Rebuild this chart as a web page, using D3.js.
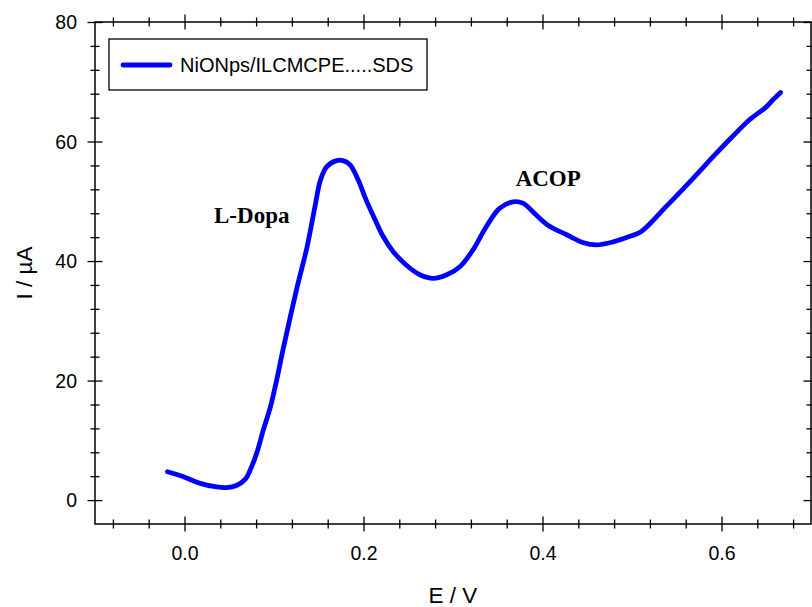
<!DOCTYPE html>
<html>
<head>
<meta charset="utf-8">
<script src="https://cdn.jsdelivr.net/npm/d3@7"></script>
<style>
  html, body { margin: 0; padding: 0; background: #fff; }
  svg { display: block; }
</style>
</head>
<body>
<div id="chart"></div>
<script>
// Data (E in V, I in µA)
const potential = [-0.019, -0.001, 0.0175, 0.036, 0.047, 0.058, 0.068, 0.075, 0.081, 0.088,
  0.096, 0.103, 0.110, 0.125, 0.137, 0.146, 0.152, 0.159, 0.170, 0.177,
  0.185, 0.194, 0.203, 0.213, 0.222, 0.233, 0.248, 0.263, 0.278, 0.293,
  0.308, 0.322, 0.337, 0.352, 0.367, 0.378, 0.393, 0.406, 0.427, 0.445,
  0.460, 0.479, 0.497, 0.510, 0.538, 0.568, 0.594, 0.612, 0.631, 0.650,
  0.657, 0.666];
const current = [4.74, 3.9, 2.8, 2.2, 2.1, 2.45, 3.5, 5.6, 8.0, 11.7,
  15.6, 20.1, 25.1, 35.1, 42.4, 49.3, 53.6, 55.8, 56.8, 56.8,
  56.1, 53.6, 50.2, 46.9, 44.1, 41.6, 39.3, 37.7, 37.1, 37.7,
  39.1, 41.8, 45.7, 48.8, 49.9, 49.7, 47.7, 46.0, 44.4, 43.1,
  42.7, 43.2, 44.1, 44.9, 49.1, 53.8, 58.0, 60.8, 63.6, 65.8,
  66.9, 68.2];

const xMajor = [0.0, 0.2, 0.4, 0.6];
const xMinor = [-0.08, -0.04, 0.04, 0.08, 0.12, 0.16, 0.24, 0.28, 0.32, 0.36,
  0.44, 0.48, 0.52, 0.56, 0.64, 0.68];
const yMajor = [0, 20, 40, 60, 80];
const yMinor = [4, 8, 12, 16, 24, 28, 32, 36, 44, 48, 52, 56, 64, 68, 72, 76];

const seriesName = 'NiONps/ILCMCPE.....SDS';
const peakLabels = [
  { text: 'L-Dopa', e: 0.033, i: 46.4 },
  { text: 'ACOP',   e: 0.370, i: 52.6 }
];

const W = 812, H = 607;
const plot = { left: 95, right: 811, top: 22, bottom: 524 };

const svg = d3.select('#chart').append('svg')
  .attr('width', W).attr('height', H);

/* ── Scales ─────────────────────────────────────────────── */
const x = d3.scaleLinear().domain([-0.1, 0.7]).range([plot.left, plot.right]);
const y = d3.scaleLinear().domain([-4, 80]).range([plot.bottom, plot.top]);

const FONT = 'Arial, "Liberation Sans", Helvetica, sans-serif';

/* ── Axes (ticks cross the frame line) ──────────────────── */
function crossTicks(sel, horizontal, half) {
  sel.select('.domain').remove();
  sel.selectAll('.tick line')
    .attr('stroke', '#000').attr('stroke-width', 1.3)
    .attr(horizontal ? 'y1' : 'x1', -half)
    .attr(horizontal ? 'y2' : 'x2', half);
}

// bottom
svg.append('g').attr('transform', `translate(0,${plot.bottom})`)
  .call(d3.axisBottom(x).tickValues(xMinor).tickFormat(''))
  .call(s => { crossTicks(s, true, 4.5); s.selectAll('text').remove(); });
const xb = svg.append('g').attr('transform', `translate(0,${plot.bottom})`)
  .call(d3.axisBottom(x).tickValues(xMajor).tickFormat(d3.format('.1f')))
  .call(s => crossTicks(s, true, 7.5));
xb.selectAll('text').attr('y', 22).attr('dy', '0.71em')
  .attr('font-family', FONT).attr('font-size', 19.5).attr('fill', '#000');

// top
svg.append('g').attr('transform', `translate(0,${plot.top})`)
  .call(d3.axisTop(x).tickValues(xMinor).tickFormat(''))
  .call(s => crossTicks(s, true, 4.5));
svg.append('g').attr('transform', `translate(0,${plot.top})`)
  .call(d3.axisTop(x).tickValues(xMajor).tickFormat(''))
  .call(s => crossTicks(s, true, 7.5));

// left
svg.append('g').attr('transform', `translate(${plot.left},0)`)
  .call(d3.axisLeft(y).tickValues(yMinor).tickFormat(''))
  .call(s => crossTicks(s, false, 4.5));
const yl = svg.append('g').attr('transform', `translate(${plot.left},0)`)
  .call(d3.axisLeft(y).tickValues(yMajor).tickFormat(d3.format('d')))
  .call(s => crossTicks(s, false, 7.5));
yl.selectAll('text').attr('x', -18).attr('dy', '0.35em')
  .attr('font-family', FONT).attr('font-size', 19.5).attr('fill', '#000');

// right
svg.append('g').attr('transform', `translate(${plot.right},0)`)
  .call(d3.axisRight(y).tickValues(yMinor).tickFormat(''))
  .call(s => crossTicks(s, false, 4.5));
svg.append('g').attr('transform', `translate(${plot.right},0)`)
  .call(d3.axisRight(y).tickValues(yMajor).tickFormat(''))
  .call(s => crossTicks(s, false, 7.5));

// frame
svg.append('rect')
  .attr('x', plot.left).attr('y', plot.top)
  .attr('width', plot.right - plot.left).attr('height', plot.bottom - plot.top)
  .attr('fill', 'none').attr('stroke', '#000').attr('stroke-width', 1.5);

/* ── Axis titles ────────────────────────────────────────── */
svg.append('text')
  .attr('x', (plot.left + plot.right) / 2).attr('y', 603)
  .attr('text-anchor', 'middle')
  .attr('font-family', FONT).attr('font-size', 22.5)
  .text('E / V');

svg.append('text')
  .attr('transform', `translate(32,${(plot.top + plot.bottom) / 2}) rotate(-90)`)
  .attr('text-anchor', 'middle')
  .attr('font-family', FONT).attr('font-size', 22.5)
  .text('I / µA');

/* ── Curve ──────────────────────────────────────────────── */
const pts = potential.map((e, k) => ({ e, i: current[k] }));
const line = d3.line().x(d => x(d.e)).y(d => y(d.i)).curve(d3.curveCatmullRom.alpha(0.5));

svg.append('path').datum(pts)
  .attr('d', line)
  .attr('fill', 'none')
  .attr('stroke', '#0000ff')
  .attr('stroke-width', 4.8)
  .attr('stroke-linejoin', 'round')
  .attr('stroke-linecap', 'round');

/* ── Peak labels ────────────────────────────────────────── */
svg.selectAll('.peak').data(peakLabels).enter().append('text')
  .attr('class', 'peak')
  .attr('x', d => x(d.e)).attr('y', d => y(d.i))
  .attr('font-family', '"Times New Roman", "Liberation Serif", serif')
  .attr('font-weight', 'bold').attr('font-size', 23)
  .text(d => d.text);

/* ── Legend ─────────────────────────────────────────────── */
const lg = svg.append('g');
lg.append('rect')
  .attr('x', 109).attr('y', 39).attr('width', 318).attr('height', 51)
  .attr('fill', '#fff').attr('stroke', '#000').attr('stroke-width', 1.3);
lg.append('line')
  .attr('x1', 123).attr('x2', 170).attr('y1', 65).attr('y2', 65)
  .attr('stroke', '#0000ff').attr('stroke-width', 4.8).attr('stroke-linecap', 'round');
lg.append('text')
  .attr('x', 180).attr('y', 72)
  .attr('font-family', FONT).attr('font-size', 20)
  .text(seriesName);
</script>
</body>
</html>
